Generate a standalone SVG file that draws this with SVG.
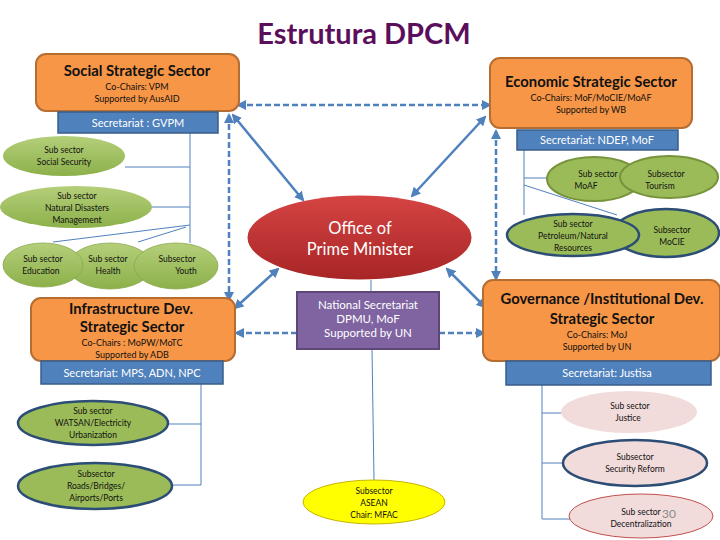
<svg xmlns="http://www.w3.org/2000/svg" width="720" height="540" viewBox="0 0 720 540">
<defs>
<style>
.t{font-family:Lato,"Open Sans","Liberation Sans",sans-serif;text-anchor:middle}
.h{font-weight:bold;font-size:14.8px;fill:#111}
.s{font-size:9px;fill:#111}
.sec{font-size:11px;fill:#fff}
.sub{font-size:8.5px;fill:#111}
.box{fill:#f79646;stroke:#b66d31;stroke-width:2}
.bar{fill:#4f81bd;stroke:#385d8a;stroke-width:1.5}
.ln{stroke:#4f81bd;stroke-width:1;fill:none}
.ar{stroke:#4f81bd;stroke-width:2.5;fill:none;marker-start:url(#m);marker-end:url(#m)}
.da{stroke:#4f81bd;stroke-width:2.5;fill:none;stroke-dasharray:6 3}
.g{fill:url(#gg)}
</style>
<linearGradient id="gg" x1="0" y1="0" x2="0" y2="1"><stop offset="0" stop-color="#b5cf7a"/><stop offset="1" stop-color="#8cb04a"/></linearGradient>
<linearGradient id="gr" x1="0" y1="0" x2="0" y2="1"><stop offset="0" stop-color="#d54443"/><stop offset="1" stop-color="#a82526"/></linearGradient>
<marker id="m" viewBox="0 0 10 10" refX="8" refY="5" markerWidth="4" markerHeight="4" orient="auto-start-reverse"><path d="M0,0L10,5L0,10z" fill="#4f81bd"/></marker>
</defs>
<rect width="720" height="540" fill="#fff"/>
<text x="364" y="44" class="t" style="font-size:29px;font-weight:bold;fill:#5b0e5b">Estrutura DPCM</text>

<g id="connectors">
<path class="da" d="M238,105H490" marker-start="url(#m)" marker-end="url(#m)"/>
<path class="ar" d="M233,115L303,200"/>
<path class="ar" d="M485,117L412,196"/>
<path class="da" d="M229,115V300" marker-start="url(#m)" marker-end="url(#m)"/>
<path class="da" d="M496,131V279" marker-start="url(#m)" marker-end="url(#m)"/>
<path class="ar" d="M278,269L235,308"/>
<path class="ar" d="M447,269L485,307"/>
<path class="da" d="M297,333H236" marker-end="url(#m)"/>
<path class="da" d="M439,333H484" marker-end="url(#m)"/>
<path class="ln" d="M371,280V292M372,349L374,480"/>
<path class="ln" d="M190,133V243M125,167H190M152,207H190M190,225L53,242M186,227L138,242"/>
<path class="ln" d="M524,150V215M524,178H547M524,185L617,215"/>
<path class="ln" d="M201,384V485M167,424H201M172,485H201"/>
<path class="ln" d="M542,385V519M542,413H561M542,463H563M542,519H570"/>
</g>

<g id="social">
<rect class="box" x="36" y="54" width="203" height="57" rx="10"/>
<text class="t h" x="137" y="76">Social Strategic Sector</text>
<text class="t s" x="137" y="90">Co-Chairs: VPM</text>
<text class="t s" x="137" y="102">Supported by AusAID</text>
</g>
<g id="social-sec"><rect class="bar" x="58" y="112" width="160" height="21"/><text class="t sec" x="138" y="127">Secretariat : GVPM</text></g>

<g id="economic">
<rect class="box" x="490" y="58" width="202" height="70" rx="10"/>
<text class="t h" x="591" y="87">Economic Strategic Sector</text>
<text class="t s" x="591" y="101">Co-Chairs: MoF/MoCIE/MoAF</text>
<text class="t s" x="591" y="113">Supported by WB</text>
</g>
<g id="economic-sec"><rect class="bar" x="517" y="130" width="161" height="20"/><text class="t sec" x="597" y="144">Secretariat: NDEP, MoF</text></g>

<g id="opm">
<ellipse cx="359.5" cy="237.5" rx="112" ry="42" fill="url(#gr)"/>
<text class="t" x="360" y="234" style="font-size:16.5px;fill:#fff">Office of</text>
<text class="t" x="360" y="255" style="font-size:16.5px;fill:#fff">Prime Minister</text>
</g>

<g id="national">
<rect x="297" y="292" width="142" height="57" fill="#8064a2" stroke="#5c4776" stroke-width="2"/>
<text class="t" x="368" y="309" style="font-size:11.5px;fill:#fff">National Secretariat</text>
<text class="t" x="368" y="323" style="font-size:11.5px;fill:#fff">DPMU, MoF</text>
<text class="t" x="368" y="337" style="font-size:11.5px;fill:#fff">Supported by UN</text>
</g>

<g id="asean">
<ellipse cx="374" cy="502" rx="71" ry="22" fill="#ffff00" stroke="#c8b400" stroke-width="1"/>
<text class="t sub" x="374" y="494">Subsector</text>
<text class="t sub" x="374" y="506">ASEAN</text>
<text class="t sub" x="374" y="518">Chair: MFAC</text>
</g>

<g id="infra">
<rect class="box" x="31" y="298" width="204" height="63" rx="10"/>
<text class="t h" x="131" y="314">Infrastructure Dev.</text>
<text class="t h" x="132" y="332">Strategic Sector</text>
<text class="t s" x="132" y="346">Co-Chairs : MoPW/MoTC</text>
<text class="t s" x="132" y="358">Supported by ADB</text>
</g>
<g id="infra-sec"><rect class="bar" x="41" y="361" width="182" height="23"/><text class="t sec" x="132" y="377">Secretariat: MPS, ADN, NPC</text></g>

<g id="gov">
<rect class="box" x="483" y="280" width="237" height="81" rx="10"/>
<text class="t h" x="602" y="304">Governance /Institutional Dev.</text>
<text class="t h" x="602" y="324">Strategic Sector</text>
<text class="t s" x="597" y="338">Co-Chairs: MoJ</text>
<text class="t s" x="597" y="350">Supported by UN</text>
</g>
<g id="gov-sec"><rect class="bar" x="506" y="361" width="205" height="24"/><text class="t sec" x="607" y="377">Secretariat: Justisa</text></g>

<g id="ss-social-security"><ellipse class="g" cx="64" cy="156" rx="61" ry="20"/><text class="t sub" x="64" y="153">Sub sector</text><text class="t sub" x="64" y="165">Social Security</text></g>
<g id="ss-ndm"><ellipse class="g" cx="76" cy="207" rx="76" ry="21"/><text class="t sub" x="77" y="199">Sub sector</text><text class="t sub" x="77" y="211">Natural Disasters</text><text class="t sub" x="77" y="223">Management</text></g>
<g id="ss-health"><ellipse class="g" cx="110" cy="266" rx="42" ry="23" stroke="#8aa84c" stroke-width="0.8"/><text class="t sub" x="108" y="262">Sub sector</text><text class="t sub" x="108" y="274">Health</text></g>
<g id="ss-education"><ellipse class="g" cx="43" cy="265" rx="40" ry="22" stroke="#8aa84c" stroke-width="0.8"/><text class="t sub" x="43" y="262">Sub sector</text><text class="t sub" x="41" y="274">Education</text></g>
<g id="ss-youth"><ellipse class="g" cx="176" cy="266" rx="42" ry="23" stroke="#8aa84c" stroke-width="0.8"/><text class="t sub" x="177" y="262">Subsector</text><text class="t sub" x="186" y="274">Youth</text></g>

<g id="ss-mocie"><ellipse cx="666" cy="233" rx="53" ry="24" fill="#9bbb59" stroke="#2c4d75" stroke-width="2.5"/><text class="t sub" x="672" y="233">Subsector</text><text class="t sub" x="672" y="245">MoCIE</text></g>
<g id="ss-petroleum"><ellipse cx="573" cy="235" rx="66" ry="21" fill="#9bbb59" stroke="#2c4d75" stroke-width="2.5"/><text class="t sub" x="573" y="227">Sub sector</text><text class="t sub" x="573" y="239">Petroleum/Natural</text><text class="t sub" x="573" y="251">Resources</text></g>
<g id="ss-moaf"><ellipse cx="594" cy="179" rx="47" ry="22" fill="#9bbb59" stroke="#77933c" stroke-width="2"/><text class="t sub" x="598" y="177">Sub sector</text><text class="t sub" x="586" y="189">MoAF</text></g>
<g id="ss-tourism"><ellipse cx="669" cy="177" rx="49" ry="21" fill="#9bbb59" stroke="#77933c" stroke-width="2"/><text class="t sub" x="666" y="177">Subsector</text><text class="t sub" x="660" y="189">Tourism</text></g>

<g id="ss-watsan"><ellipse cx="93" cy="423" rx="75" ry="22" fill="#9bbb59" stroke="#2c4d75" stroke-width="2.5"/><text class="t sub" x="93" y="414">Sub sector</text><text class="t sub" x="93" y="426">WATSAN/Electricity</text><text class="t sub" x="93" y="438">Urbanization</text></g>
<g id="ss-roads"><ellipse cx="95" cy="486" rx="77" ry="23" fill="#9bbb59" stroke="#2c4d75" stroke-width="2.5"/><text class="t sub" x="96" y="477">Subsector</text><text class="t sub" x="96" y="489">Roads/Bridges/</text><text class="t sub" x="96" y="501">Airports/Ports</text></g>

<g id="ss-justice"><ellipse cx="629" cy="412" rx="68" ry="21" fill="#f2dcdb"/><text class="t sub" x="630" y="409">Sub sector</text><text class="t sub" x="628" y="421">Justice</text></g>
<g id="ss-security"><ellipse cx="635" cy="463" rx="72" ry="23" fill="#f2dcdb" stroke="#2c4d75" stroke-width="2.5"/><text class="t sub" x="635" y="460">Subsector</text><text class="t sub" x="635" y="472">Security Reform</text></g>
<g id="ss-decentral"><ellipse cx="641" cy="516" rx="72" ry="22" fill="#f2dcdb" stroke="#c0504d" stroke-width="1"/><text class="t sub" x="641" y="515">Sub sector</text><text class="t sub" x="641" y="527">Decentralization</text><text class="t" x="669" y="518" style="font-size:12px;fill:#8a8a8a">30</text></g>
</svg>
